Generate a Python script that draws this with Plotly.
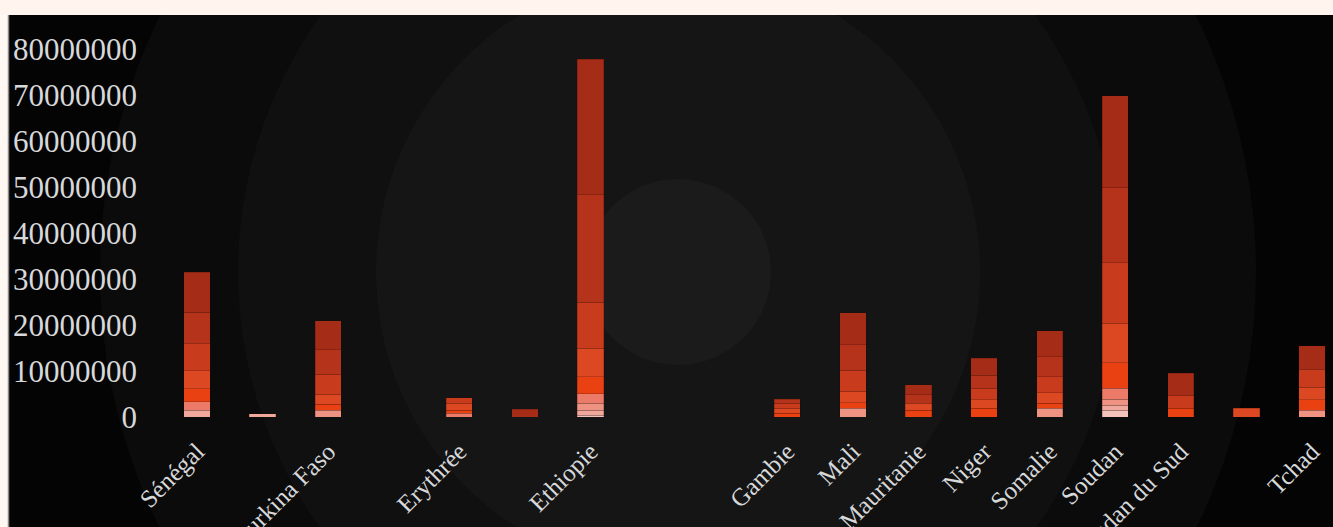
import plotly.graph_objects as go

# ---------------- data ----------------
categories = ["Sénégal", "", "Burkina Faso", "", "Erythrée", "", "Ethiopie", "", "",
              "Gambie", "Mali", "Mauritanie", "Niger", "Somalie", "Soudan",
              "Soudan du Sud", "", "Tchad"]

serie_1 = [0, 0, 0, 0, 0, 0, 400000, 0, 0, 0, 0, 0, 0, 0, 1500000, 0, 0, 0]
serie_2 = [1500000, 700000, 0, 0, 0, 0, 1100000, 0, 0, 0, 0, 0, 0, 0, 1100000, 0, 0, 0]
serie_3 = [0, 0, 1500000, 0, 0, 0, 1500000, 0, 0, 0, 1900000, 0, 0, 1900000, 1300000, 0, 0, 1500000]
serie_4 = [1800000, 0, 0, 0, 800000, 0, 2100000, 0, 0, 0, 0, 0, 0, 0, 2400000, 0, 0, 0]
serie_5 = [2800000, 0, 1300000, 0, 700000, 0, 3700000, 0, 0, 800000, 1200000, 1500000, 1900000,
           1100000, 5500000, 1900000, 0, 2200000]
serie_6 = [4000000, 0, 2100000, 0, 1500000, 0, 6200000, 0, 0, 1100000, 2550000, 1500000, 1800000,
           2300000, 8600000, 0, 1900000, 2800000]
serie_7 = [5800000, 0, 4400000, 0, 1200000, 0, 10000000, 0, 0, 1100000, 4550000, 0, 2500000,
           3500000, 13100000, 2700000, 0, 3900000]
serie_8 = [6900000, 0, 5300000, 0, 0, 0, 23300000, 0, 0, 850000, 5500000, 1800000, 2900000,
           4300000, 16300000, 0, 0, 0]
serie_9 = [8700000, 0, 6300000, 0, 0, 1700000, 29500000, 0, 0, 0, 7000000, 2200000, 3700000,
           5600000, 20000000, 4900000, 0, 5100000]

series = [serie_1, serie_2, serie_3, serie_4, serie_5, serie_6, serie_7, serie_8, serie_9]
series_names = ["Série 1", "Série 2", "Série 3", "Série 4", "Série 5",
                "Série 6", "Série 7", "Série 8", "Série 9"]
y_ticks = [0, 10000000, 20000000, 30000000, 40000000, 50000000, 60000000, 70000000, 80000000]

# ---------------- style ----------------
colors = ["#f3c3bb", "#f1a89c", "#ee9282", "#ec7a68", "#ea4112",
          "#dc4822", "#c93b1d", "#b5331a", "#a52c16"]

W, H = 1333, 527
ML, MR, MT, MB = 150, 0, 30, 110
PW, PH = W - ML - MR, H - MT - MB
X0_PIX, STEP = 197.0, 65.59
Y_PER_UNIT = 368.0 / 80000000


def px_x(p):
    return (p - ML) / PW


def px_y(p):
    return (H - MB - p) / PH


xs = list(range(len(categories)))

fig = go.Figure()
for name, vals, col in zip(series_names, series, colors):
    fig.add_trace(go.Bar(
        x=xs, y=[v if v else None for v in vals], name=name,
        marker=dict(color=col, line=dict(color="rgba(40,5,0,0.35)", width=0.6)),
        width=0.4,
    ))

shapes = []
# rings of the radial background
cx, cy = 678, 272
for r, c in [(578, "#0b0b0b"), (440, "#101010"), (302, "#151515"), (93, "#1b1b1b")]:
    shapes.append(dict(type="circle", layer="below", xref="paper", yref="paper",
                       xsizemode="pixel", ysizemode="pixel",
                       xanchor=px_x(cx), yanchor=px_y(cy),
                       x0=-r, x1=r, y0=-r, y1=r, line=dict(width=0), fillcolor=c))
# page strips
shapes.append(dict(type="rect", layer="below", xref="paper", yref="paper",
                   x0=px_x(-5), x1=px_x(W + 5), y0=px_y(15), y1=px_y(-5),
                   line=dict(width=0), fillcolor="#fff5ee"))
shapes.append(dict(type="rect", layer="below", xref="paper", yref="paper",
                   x0=px_x(-5), x1=px_x(8), y0=px_y(H + 5), y1=px_y(15),
                   line=dict(width=0), fillcolor="#fff7f2"))
shapes.append(dict(type="line", layer="below", xref="paper", yref="paper",
                   x0=px_x(8.5), x1=px_x(8.5), y0=px_y(H + 5), y1=px_y(15),
                   line=dict(width=1.5, color="#8a8a8a")))

font_family = "Liberation Serif, Times New Roman, serif"

fig.update_layout(
    width=W, height=H,
    margin=dict(l=ML, r=MR, t=MT, b=MB, pad=0),
    barmode="stack",
    showlegend=False,
    paper_bgcolor="#040404",
    plot_bgcolor="rgba(0,0,0,0)",
    shapes=shapes,
    font=dict(family=font_family, color="#d6d8da"),
    xaxis=dict(
        range=[(ML - X0_PIX) / STEP, (ML - X0_PIX) / STEP + PW / STEP],
        tickmode="array", tickvals=xs, ticktext=categories,
        tickangle=-45, tickfont=dict(size=25, family=font_family, color="#d6d8da"),
        showgrid=False, zeroline=False, showline=False, ticks="",
        automargin=False, ticklabelstandoff=14,
    ),
    yaxis=dict(
        range=[0, PH / Y_PER_UNIT],
        tickmode="array", tickvals=y_ticks, tickformat="d",
        tickfont=dict(size=31, family=font_family, color="#d6d8da"),
        showgrid=False, zeroline=False, showline=False, ticks="",
        automargin=False, ticklabelstandoff=12,
    ),
)

fig.write_html(
    "out.html",
    config={"displayModeBar": False},
    post_script="document.body.style.margin='0';document.body.style.background='#fff5ee';",
)
